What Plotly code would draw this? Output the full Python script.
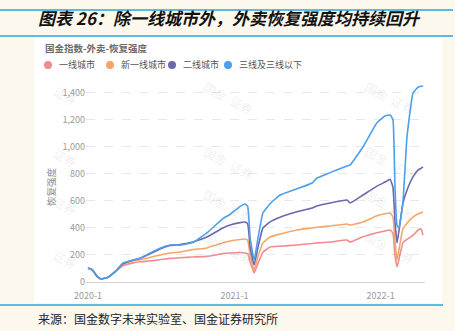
import plotly.graph_objects as go

dates = ["2020-01-01","2020-01-12","2020-01-24","2020-02-03","2020-02-20","2020-03-10",
         "2020-03-28","2020-04-20","2020-05-10","2020-06-01","2020-06-29","2020-07-24",
         "2020-08-18","2020-09-19","2020-10-24","2020-12-03","2020-12-21","2021-01-15",
         "2021-01-27","2021-02-03","2021-02-09","2021-02-19","2021-03-01","2021-03-13",
         "2021-03-31","2021-04-25","2021-06-06","2021-07-14","2021-07-26","2021-08-28",
         "2021-10-09","2021-10-17","2021-11-18","2021-12-23","2022-01-12","2022-01-25",
         "2022-02-01","2022-02-06","2022-02-11","2022-02-16","2022-02-26","2022-03-08",
         "2022-03-23","2022-04-05","2022-04-12","2022-04-17"]

tier1 = [104,90,40,22,35,78,120,140,150,155,165,175,180,185,190,210,215,218,
         215,210,150,67,140,220,259,265,274,285,290,296,311,296,335,365,378,385,
         360,200,111,170,290,315,345,385,393,348]
new_tier1 = [104,90,40,22,35,80,128,155,165,180,200,215,222,240,252,290,304,315,
             318,310,200,89,190,290,333,355,385,400,405,415,430,422,444,490,505,511,
             480,300,163,240,395,435,481,505,512,518]
tier2 = [104,90,40,22,35,80,135,160,175,205,245,270,278,296,333,400,422,440,
         444,430,260,126,260,400,445,480,520,548,563,585,607,585,644,710,740,760,
         700,450,289,380,585,680,778,830,842,852]
tier3 = [104,90,40,22,35,80,140,160,175,210,250,274,274,292,363,470,500,560,
         578,560,330,163,330,511,580,644,690,733,770,810,859,867,1000,1180,1230,1237,
         1200,700,420,400,600,1074,1400,1444,1450,1452]

series_names = ["一线城市", "新一线城市", "二线城市", "三线及三线以下"]
series_vals = [tier1, new_tier1, tier2, tier3]
colors = ["#F08C8F", "#F5A669", "#6B68AE", "#4C9FEA"]

y_ticks = [0, 200, 400, 600, 800, 1000, 1200, 1400]
x_tickvals = ["2020-01-01", "2021-01-01", "2022-01-01"]
x_ticktext = ["2020-1", "2021-1", "2022-1"]

W, H = 455, 331
ML, MR, MT, MB = 86, 30, 80, 49
PW, PH = W - ML - MR, H - MT - MB

def px(x):
    return (x - ML) / PW

def py(y):
    return (H - MB - y) / PH

fig = go.Figure()
for name, vals, c in zip(series_names, series_vals, colors):
    fig.add_trace(go.Scatter(x=dates, y=vals, mode="lines", name=name,
                             line=dict(color=c, width=1.6, shape="spline", smoothing=0.35),
                             showlegend=False, hoverinfo="skip"))

shapes = []
# white panel
shapes.append(dict(type="rect", xref="paper", yref="paper", x0=px(34), x1=px(442),
                   y0=py(303), y1=py(36), fillcolor="white", line_width=0, layer="below"))
# blue rules
for yy, x1 in [(10, 453), (36, 453), (305, 443)]:
    shapes.append(dict(type="line", xref="paper", yref="paper", x0=px(0), x1=px(x1),
                       y0=py(yy), y1=py(yy), line=dict(color="#2AA6DF", width=1.5)))
annotations = []
# legend
leg_x = [48, 110, 172, 228]
for lx, name, c in zip(leg_x, series_names, colors):
    shapes.append(dict(type="circle", xref="paper", yref="paper",
                       x0=px(lx - 4), x1=px(lx + 4), y0=py(69), y1=py(61),
                       fillcolor=c, line_width=0))
    annotations.append(dict(x=px(lx + 9), y=py(65), xref="paper", yref="paper",
                            text=name, showarrow=False, xanchor="left", yanchor="middle",
                            font=dict(size=9, color="#555555", family="Noto Sans CJK SC")))
# titles
annotations.append(dict(x=px(36), y=py(18), xref="paper", yref="paper",
                        text="<b><i>图表 26：除一线城市外，外卖恢复强度均持续回升</i></b>",
                        showarrow=False, xanchor="left", yanchor="middle",
                        font=dict(size=17, color="#111111", family="Noto Sans CJK SC")))
annotations.append(dict(x=px(43), y=py(48), xref="paper", yref="paper",
                        text="<b>国金指数-外卖-恢复强度</b>", showarrow=False,
                        xanchor="left", yanchor="middle",
                        font=dict(size=9.5, color="#6b6b6b", family="Noto Sans CJK SC")))
annotations.append(dict(x=px(51), y=py(187), xref="paper", yref="paper",
                        text="恢复强度", showarrow=False, textangle=-90,
                        xanchor="center", yanchor="middle",
                        font=dict(size=9.5, color="#8a8a8a", family="Noto Sans CJK SC")))
annotations.append(dict(x=px(36), y=py(318), xref="paper", yref="paper",
                        text="来源：国金数字未来实验室、国金证券研究所", showarrow=False,
                        xanchor="left", yanchor="middle",
                        font=dict(size=12, color="#222222", family="Noto Sans CJK SC")))
# watermarks
for wx in [228, 420]:
    for wy in [75, 140, 205, 270]:
        annotations.append(dict(x=px(wx), y=py(wy), xref="paper", yref="paper",
                                text="国金  证券", showarrow=False, textangle=28,
                                font=dict(size=12, color="rgba(160,160,160,0.18)",
                                          family="Noto Sans CJK SC")))
for wy in [80, 142, 205, 275]:
    annotations.append(dict(x=px(48), y=py(wy), xref="paper", yref="paper",
                            text="证券", showarrow=False, textangle=28,
                            font=dict(size=12, color="rgba(160,160,160,0.18)",
                                      family="Noto Sans CJK SC")))

fig.update_layout(
    width=W, height=H,
    margin=dict(l=ML, r=MR, t=MT, b=MB),
    paper_bgcolor="#FDF8EE",
    plot_bgcolor="rgba(0,0,0,0)",
    shapes=shapes, annotations=annotations,
    showlegend=False,
    font=dict(family="Noto Sans CJK SC"),
    xaxis=dict(type="date", range=["2019-12-27", "2022-04-22"],
               tickvals=x_tickvals, ticktext=x_ticktext,
               showgrid=False, zeroline=False,
               showline=True, linecolor="#d4d4d4", linewidth=1,
               ticks="", ticklabelstandoff=5,
               tickfont=dict(size=9, color="#9a9a9a")),
    yaxis=dict(range=[0, 1496], tickvals=y_ticks, tickformat=",d",
               showgrid=True, gridcolor="#e8e8e8", griddash="dash", gridwidth=1,
               zeroline=False, showline=False, ticks="",
               tickfont=dict(size=9, color="#9a9a9a")),
)

fig.write_html("out.html")
